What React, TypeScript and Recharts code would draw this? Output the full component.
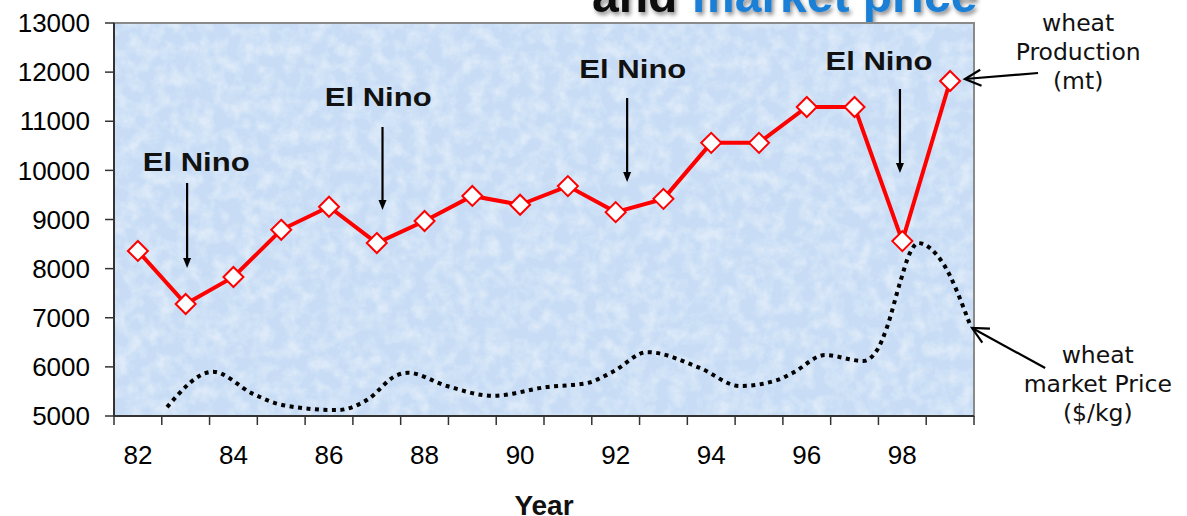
import React from 'react';
import { ComposedChart, Line, XAxis, YAxis, ReferenceArea, ReferenceLine, ReferenceDot } from 'recharts';

// ---- data ----
const years = [82, 83, 84, 85, 86, 87, 88, 89, 90, 91, 92, 93, 94, 95, 96, 97, 98, 99];
const production = [8360, 7280, 7830, 8790, 9260, 8520, 8970, 9480, 9300, 9680, 9150, 9420, 10560, 10560, 11290, 11290, 8560, 11820];

const priceYears = [82.61, 83.57, 84.41, 85.04, 86.17, 86.8, 87.42, 87.65, 88.47, 89.43, 90.56, 91.4, 91.94, 92.66, 93.76, 94.6, 95.38, 95.71, 96.38, 97.18, 97.47, 97.68, 97.95, 98.16, 98.33, 98.85, 99.42];
const priceValues = [5180, 5900, 5450, 5220, 5120, 5330, 5830, 5880, 5610, 5410, 5590, 5670, 5900, 6300, 5980, 5610, 5730, 5880, 6240, 6120, 6340, 6810, 7710, 8320, 8520, 8110, 6850];

const yTicks = [5000, 6000, 7000, 8000, 9000, 10000, 11000, 12000, 13000];
const xLabelYears = [82, 84, 86, 88, 90, 92, 94, 96, 98];
const xBoundaries = [81.5, 82.5, 83.5, 84.5, 85.5, 86.5, 87.5, 88.5, 89.5, 90.5, 91.5, 92.5, 93.5, 94.5, 95.5, 96.5, 97.5, 98.5, 99.5];

const elNinoArrowYears = [83.03, 87.12, 92.24, 97.95];
const elNinoArrowTop = [9743, 10883, 11473, 11656];
const elNinoArrowBottom = [8013, 9193, 9763, 9947];
const elNinoTextYears = [83.22, 87.03, 92.36, 97.51];
const elNinoTextValues = [9987, 11310, 11880, 12043];
const elNinoLabel = 'El Nino';

const prodLabelLines = ['wheat', 'Production', '(mt)'];
const priceLabelLines = ['wheat', 'market Price', '($/kg)'];

const productionData = years.map((y, i) => ({ year: y, value: production[i] }));
const priceData = priceYears.map((y, i) => ({ year: y, value: priceValues[i] }));
const xTicks = [...xBoundaries, ...xLabelYears].sort((a, b) => a - b);

const TICK_SIZE = 9;
const TICK_MARGIN = 21;
const AXIS = '#333333';

const XTick = (props: any) => {
  const { x, y, payload } = props;
  const v = payload.value;
  if (v % 1 !== 0) {
    return (
      <line x1={x} x2={x} y1={y - TICK_SIZE - TICK_MARGIN} y2={y - TICK_MARGIN} stroke={AXIS} strokeWidth={1.5} />
    );
  }
  return (
    <text x={x} y={y} dy="0.71em" textAnchor="middle" fontSize={26} fontFamily="'Liberation Sans', Arial, sans-serif" fill="#000">
      {v}
    </text>
  );
};

const Diamond = (props: any) => {
  const { cx, cy, index } = props;
  if (cx == null || cy == null) return <g key={index} />;
  const r = 10;
  return (
    <polygon
      key={index}
      points={`${cx},${cy - r} ${cx + r},${cy} ${cx},${cy + r} ${cx - r},${cy}`}
      fill="#ffffff"
      stroke="#ff0000"
      strokeWidth={2}
    />
  );
};

const makeArrow = (open: boolean, headLen: number, headHalf: number, width: number) => (p: any) => {
  const { x1, y1, x2, y2 } = p;
  const ang = Math.atan2(y2 - y1, x2 - x1);
  const cx = Math.cos(ang);
  const sx = Math.sin(ang);
  const bx = x2 - headLen * cx;
  const by = y2 - headLen * sx;
  const ax = bx - headHalf * sx;
  const ay = by + headHalf * cx;
  const cx2 = bx + headHalf * sx;
  const cy2 = by - headHalf * cx;
  if (open) {
    return (
      <g>
        <line x1={x1} y1={y1} x2={x2} y2={y2} stroke="#000" strokeWidth={width} />
        <polyline points={`${ax},${ay} ${x2},${y2} ${cx2},${cy2}`} fill="none" stroke="#000" strokeWidth={width} strokeLinejoin="miter" />
      </g>
    );
  }
  return (
    <g>
      <line x1={x1} y1={y1} x2={bx} y2={by} stroke="#000" strokeWidth={width} />
      <polygon points={`${ax},${ay} ${x2},${y2} ${cx2},${cy2}`} fill="#000" />
    </g>
  );
};

const elNinoArrow = makeArrow(false, 10, 4, 2.2);
const openArrow = makeArrow(true, 16, 8, 2.2);

const multiLineText = (lines: string[], lineHeight: number) => (p: any) => (
  <text
    x={p.cx}
    y={p.cy}
    textAnchor="middle"
    fontSize={23.5}
    fontFamily="'DejaVu Sans', Verdana, sans-serif"
    fill="#111"
  >
    {lines.map((l, i) => (
      <tspan key={i} x={p.cx} dy={i === 0 ? 0 : lineHeight}>
        {l}
      </tspan>
    ))}
  </text>
);

const elNinoText = (p: any) => (
  <text
    x={p.cx}
    y={p.cy}
    textAnchor="middle"
    fontSize={25.5}
    fontWeight="bold"
    fontFamily="'Liberation Sans', Arial, sans-serif"
    fill="#111"
    textLength={107}
    lengthAdjust="spacingAndGlyphs"
  >
    {elNinoLabel}
  </text>
);

const plotBg = (p: any) => (
  <g>
    <rect x={p.x} y={p.y} width={p.width} height={p.height} fill="#c8ddf5" />
    <rect x={p.x} y={p.y} width={p.width} height={p.height} filter="url(#bgTex)" opacity={0.4} />
    <rect x={p.x} y={p.y} width={p.width} height={p.height} fill="none" stroke="#8a8a8a" strokeWidth={2} />
  </g>
);

export default function App() {
  return (
    <div style={{ position: 'absolute', left: 0, top: 0, width: 1187, height: 516, background: '#fff' }}>
      <ComposedChart width={1187} height={516} margin={{ top: 23, right: 213, bottom: 0, left: 0 }}>
        <defs>
          <filter id="bgTex" x="0" y="0" width="100%" height="100%">
            <feTurbulence type="fractalNoise" baseFrequency="0.07" numOctaves="4" seed="11" result="n" />
            <feColorMatrix in="n" type="matrix" values="0 0 0 0 1  0 0 0 0 1  0 0 0 0 1  0 0 0 -2.4 1.45" />
          </filter>
          <filter id="titleShadow" x="-5%" y="-50%" width="110%" height="200%">
            <feGaussianBlur in="SourceAlpha" stdDeviation="2" />
            <feOffset dx="2" dy="3" result="b" />
            <feComponentTransfer><feFuncA type="linear" slope="0.45" /></feComponentTransfer>
            <feMerge>
              <feMergeNode />
              <feMergeNode in="SourceGraphic" />
            </feMerge>
          </filter>
        </defs>
        <text x={592} y={12} fontSize={48} fontWeight="bold" fontFamily="'Liberation Sans', Arial, sans-serif" filter="url(#titleShadow)">
          <tspan fill="#111">and</tspan>
          <tspan x={692} fill="#1a7fd6">market price</tspan>
        </text>
        <ReferenceArea x1={81.5} x2={99.5} y1={5000} y2={13000} shape={plotBg} ifOverflow="visible" />
        <XAxis
          dataKey="year"
          type="number"
          domain={[81.5, 99.5]}
          ticks={xTicks}
          interval={0}
          allowDataOverflow
          height={100}
          tickLine={false}
          tickSize={TICK_SIZE}
          tickMargin={TICK_MARGIN}
          tick={<XTick />}
          axisLine={{ stroke: AXIS, strokeWidth: 2 }}
          label={{ value: 'Year', position: 'insideBottom', offset: 1, fontSize: 28, fontWeight: 'bold', fill: '#111', fontFamily: "'Liberation Sans', Arial, sans-serif" }}
        />
        <YAxis
          type="number"
          domain={[5000, 13000]}
          ticks={yTicks}
          interval={0}
          allowDataOverflow
          width={114}
          tickSize={TICK_SIZE}
          tickMargin={15}
          tickLine={{ stroke: AXIS, strokeWidth: 1.5 }}
          axisLine={{ stroke: AXIS, strokeWidth: 2 }}
          tick={{ fill: '#000', fontSize: 26, fontFamily: "'Liberation Sans', Arial, sans-serif" }}
        />
        <Line
          data={priceData}
          dataKey="value"
          type="monotone"
          stroke="#000"
          strokeWidth={4}
          strokeDasharray="4 4.5"
          dot={false}
          activeDot={false}
          isAnimationActive={false}
        />
        <Line
          data={productionData}
          dataKey="value"
          type="linear"
          stroke="#ff0000"
          strokeWidth={4}
          dot={Diamond}
          activeDot={false}
          isAnimationActive={false}
        />
        {elNinoArrowYears.map((yr, i) => (
          <ReferenceLine
            key={'a' + i}
            segment={[{ x: yr, y: elNinoArrowTop[i] }, { x: yr, y: elNinoArrowBottom[i] }]}
            shape={elNinoArrow}
            ifOverflow="visible"
          />
        ))}
        {elNinoTextYears.map((yr, i) => (
          <ReferenceDot key={'t' + i} x={yr} y={elNinoTextValues[i]} r={0} shape={elNinoText} ifOverflow="visible" />
        ))}
        <ReferenceLine segment={[{ x: 100.84, y: 11982 }, { x: 99.31, y: 11860 }]} shape={openArrow} ifOverflow="visible" />
        <ReferenceLine segment={[{ x: 100.99, y: 5977 }, { x: 99.46, y: 6791 }]} shape={openArrow} ifOverflow="visible" />
        <ReferenceDot x={101.68} y={12837} r={0} shape={multiLineText(prodLabelLines, 29)} ifOverflow="visible" />
        <ReferenceDot x={102.09} y={6079} r={0} shape={multiLineText(priceLabelLines, 29)} ifOverflow="visible" />
      </ComposedChart>
    </div>
  );
}
